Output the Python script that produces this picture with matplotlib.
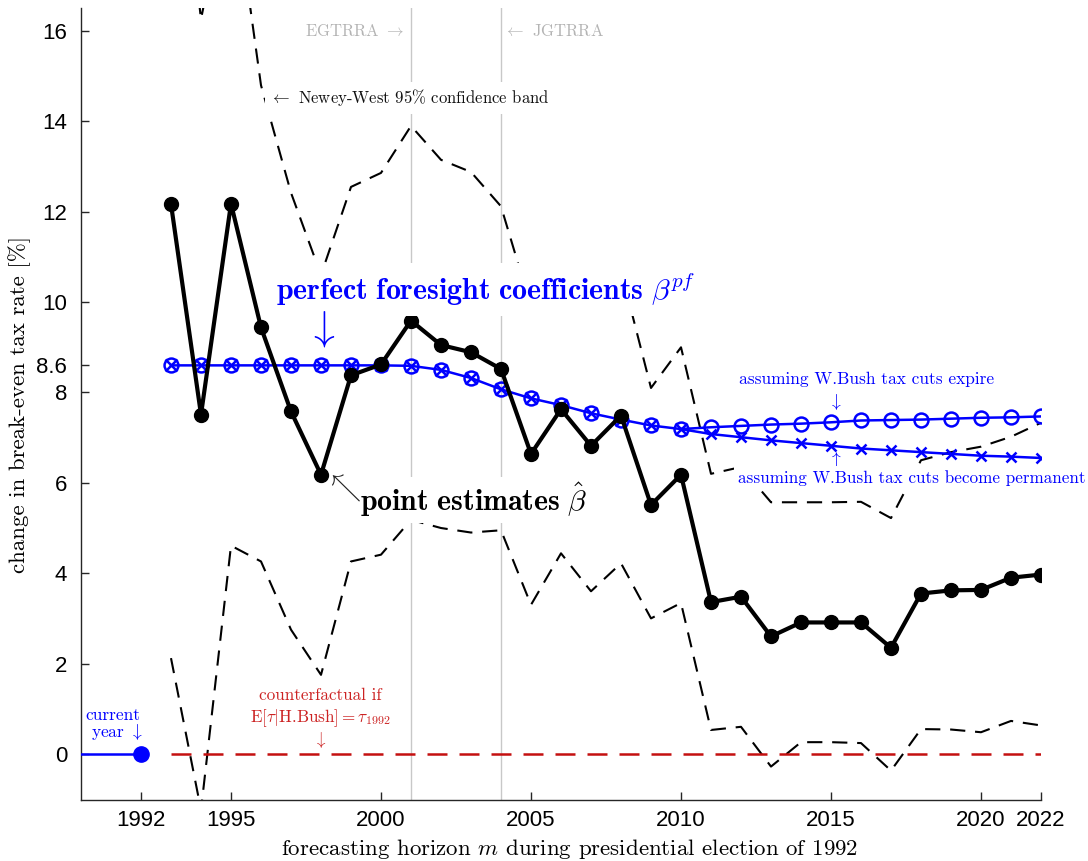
import matplotlib
matplotlib.use("Agg")
import matplotlib.pyplot as plt
import numpy as np

plt.rcParams['mathtext.fontset'] = 'cm'
plt.rcParams['axes.formatter.use_mathtext'] = True

# ---------------- data ----------------
years = list(range(1993, 2023))
point_est = [12.17, 7.51, 12.18, 9.44, 7.58, 6.18, 8.38, 8.62, 9.59, 9.05,
             8.89, 8.52, 6.64, 7.63, 6.82, 7.49, 5.51, 6.18, 3.36, 3.48,
             2.60, 2.91, 2.91, 2.91, 2.35, 3.55, 3.62, 3.63, 3.90, 3.97]
band_upper = [22.2, 16.26, 19.6, 14.8, 12.42, 10.6, 12.55, 12.86, 13.9, 13.15,
              12.88, 12.12, 9.9, 10.82, 10.05, 10.7, 8.1, 9.0, 6.2, 6.35,
              5.57, 5.57, 5.57, 5.58, 5.22, 6.5, 6.68, 6.8, 7.02, 7.33]
band_lower = [2.12, -1.24, 4.61, 4.26, 2.75, 1.75, 4.26, 4.41, 5.18, 5.0,
              4.9, 4.95, 3.3, 4.44, 3.6, 4.22, 3.0, 3.34, 0.53, 0.6,
              -0.28, 0.26, 0.26, 0.24, -0.37, 0.55, 0.54, 0.48, 0.73, 0.63]
pf_years = list(range(1993, 2011))
pf_common = [8.6, 8.6, 8.6, 8.6, 8.6, 8.6, 8.6, 8.6, 8.59, 8.5,
             8.32, 8.07, 7.87, 7.72, 7.54, 7.40, 7.27, 7.19]
branch_years = list(range(2010, 2023))
pf_expire = [7.19, 7.23, 7.26, 7.29, 7.31, 7.34, 7.38, 7.39, 7.40, 7.42, 7.44, 7.45, 7.47]
pf_permanent = [7.19, 7.08, 7.01, 6.94, 6.88, 6.82, 6.76, 6.72, 6.68, 6.64, 6.60, 6.58, 6.55]
current_x = [1990, 1992]
current_y = [0, 0]
counterfactual_x = [1993, 2022]
counterfactual_y = [0, 0]
law_years = [2001, 2004]
xticks = [1992, 1995, 2000, 2005, 2010, 2015, 2020, 2022]
yticks = [0, 2, 4, 6, 8, 8.6, 10, 12, 14, 16]
ytick_labels = ['0', '2', '4', '6', '8', '8.6', '10', '12', '14', '16']

# ---------------- figure ----------------
fig = plt.figure(figsize=(10.88, 8.61), dpi=100)
ax = fig.add_axes([81/1088, 1-800/861, 960/1088, 792/861])
ax.set_xlim(1990, 2022)
ax.set_ylim(-1.02, 16.51)

for s in ['top', 'right']:
    ax.spines[s].set_visible(False)
for s in ['left', 'bottom']:
    ax.spines[s].set_color('#262626')
    ax.spines[s].set_linewidth(1.0)

ax.set_xticks(xticks)
ax.set_xticklabels([str(t) for t in xticks], family='Liberation Sans', fontsize=16)
ax.set_yticks(yticks)
ax.set_yticklabels(ytick_labels, family='Liberation Sans', fontsize=16)
ax.tick_params(axis='x', direction='in', length=6, width=1, color='#262626', pad=7)
ax.tick_params(axis='y', direction='in', length=6, width=1, color='#262626', pad=10)

serif = 'cmr10'

# vertical law lines
for ly in law_years:
    ax.axvline(ly, color='#c8c8c8', lw=1.0, zorder=1)

# confidence band
ax.plot(years, band_upper, color='black', lw=1.5, dashes=(7.3, 4.7), zorder=2)
ax.plot(years, band_lower, color='black', lw=1.5, dashes=(7.3, 4.7), zorder=2)

# counterfactual
ax.plot(counterfactual_x, counterfactual_y, color='#c41010', lw=1.8, dashes=(8, 4.8), zorder=2)

# current year
ax.plot(current_x, current_y, color='blue', lw=1.8, zorder=3)
ax.plot([current_x[-1]], [current_y[-1]], 'o', color='blue', ms=11, zorder=3)

# perfect foresight
ax.plot(pf_years, pf_common, color='blue', lw=1.8, marker='o', ms=10, mfc='none', mew=1.8, zorder=4)
ax.plot(pf_years, pf_common, color='blue', lw=0, marker='x', ms=8, mew=1.8, zorder=4)
ax.plot(branch_years, pf_expire, color='blue', lw=1.8, marker='o', ms=10, mfc='none', mew=1.8,
        markevery=list(range(1, len(branch_years))), zorder=4)
ax.plot(branch_years, pf_permanent, color='blue', lw=1.8, marker='x', ms=7, mew=1.8,
        markevery=list(range(1, len(branch_years))), zorder=4)

# point estimates
ax.plot(years, point_est, color='black', lw=3, marker='o', ms=10, zorder=5)

# texts
ax.text(2000.8, 16.0, r'EGTRRA $\rightarrow$', family=serif, fontsize=12, color='#b4b4b4',
        ha='right', va='center', zorder=6)
ax.text(2004.1, 16.0, r'$\leftarrow$ JGTRRA', family=serif, fontsize=12, color='#b4b4b4',
        ha='left', va='center', zorder=6)
ax.text(1996.3, 14.52, r'$\leftarrow$ Newey-West 95% confidence band', family=serif, fontsize=12,
        color='#111111', ha='left', va='center',
        bbox=dict(facecolor='white', edgecolor='none', pad=4), zorder=6)
ax.text(2003.5, 10.27, r'$\mathbf{perfect\ foresight\ coefficients}\ \beta^{pf}$', fontsize=21.5,
        color='blue', ha='center', va='center',
        bbox=dict(facecolor='white', edgecolor='none', pad=6), zorder=6)
ax.text(1998, 9.42, r'$\downarrow$', fontsize=30, color='blue', ha='center', va='center', zorder=6)
ax.text(2003.1, 5.62, r'$\mathbf{point\ estimates}\ \hat{\beta}$', fontsize=21.5,
        color='black', ha='center', va='center',
        bbox=dict(facecolor='white', edgecolor='none', pad=3), zorder=6)
ax.text(1998.75, 5.9, r'$\nwarrow$', fontsize=22, color='#222222', ha='center', va='center', zorder=6)
ax.text(2016.17, 8.28, r'assuming W.Bush tax cuts expire', family=serif, fontsize=12.5,
        color='blue', ha='center', va='center',
        bbox=dict(facecolor='white', edgecolor='none', pad=2), zorder=6)
ax.text(2015.13, 7.8, r'$\downarrow$', fontsize=12.5, color='blue', ha='center', va='center', zorder=6)
ax.text(2015.13, 6.5, r'$\uparrow$', fontsize=12.5, color='blue', ha='center', va='center', zorder=6)
ax.text(2017.7, 6.11, r'assuming W.Bush tax cuts become permanent', family=serif, fontsize=12.3,
        color='blue', ha='center', va='center',
        bbox=dict(facecolor='white', edgecolor='none', pad=3), zorder=6)
ax.text(1997.97, 1.29, 'counterfactual if', family=serif, fontsize=12.3, color='#cc2222',
        ha='center', va='center', zorder=6)
ax.text(1997.97, 0.8, r'E$[\tau|$H.Bush$] = \tau_{1992}$', family=serif, fontsize=12.3,
        color='#cc2222', ha='center', va='center', zorder=6)
ax.text(1997.97, 0.3, r'$\downarrow$', fontsize=12.3, color='#cc2222', ha='center', va='center', zorder=6)
ax.text(1991.07, 0.86, 'current', family=serif, fontsize=12.5, color='blue', ha='center', va='center', zorder=6)
ax.text(1991.2, 0.48, r'year $\downarrow$', family=serif, fontsize=12.5, color='blue', ha='center', va='center', zorder=6)

ax.set_xlabel(r'forecasting horizon $m$ during presidential election of 1992', family=serif,
              fontsize=16.5)
ax.xaxis.set_label_coords(0.509, -0.047)
ax.set_ylabel('change in break-even tax rate [%]', family=serif, fontsize=16.5, labelpad=4)

fig.savefig('out.png', dpi=100)
